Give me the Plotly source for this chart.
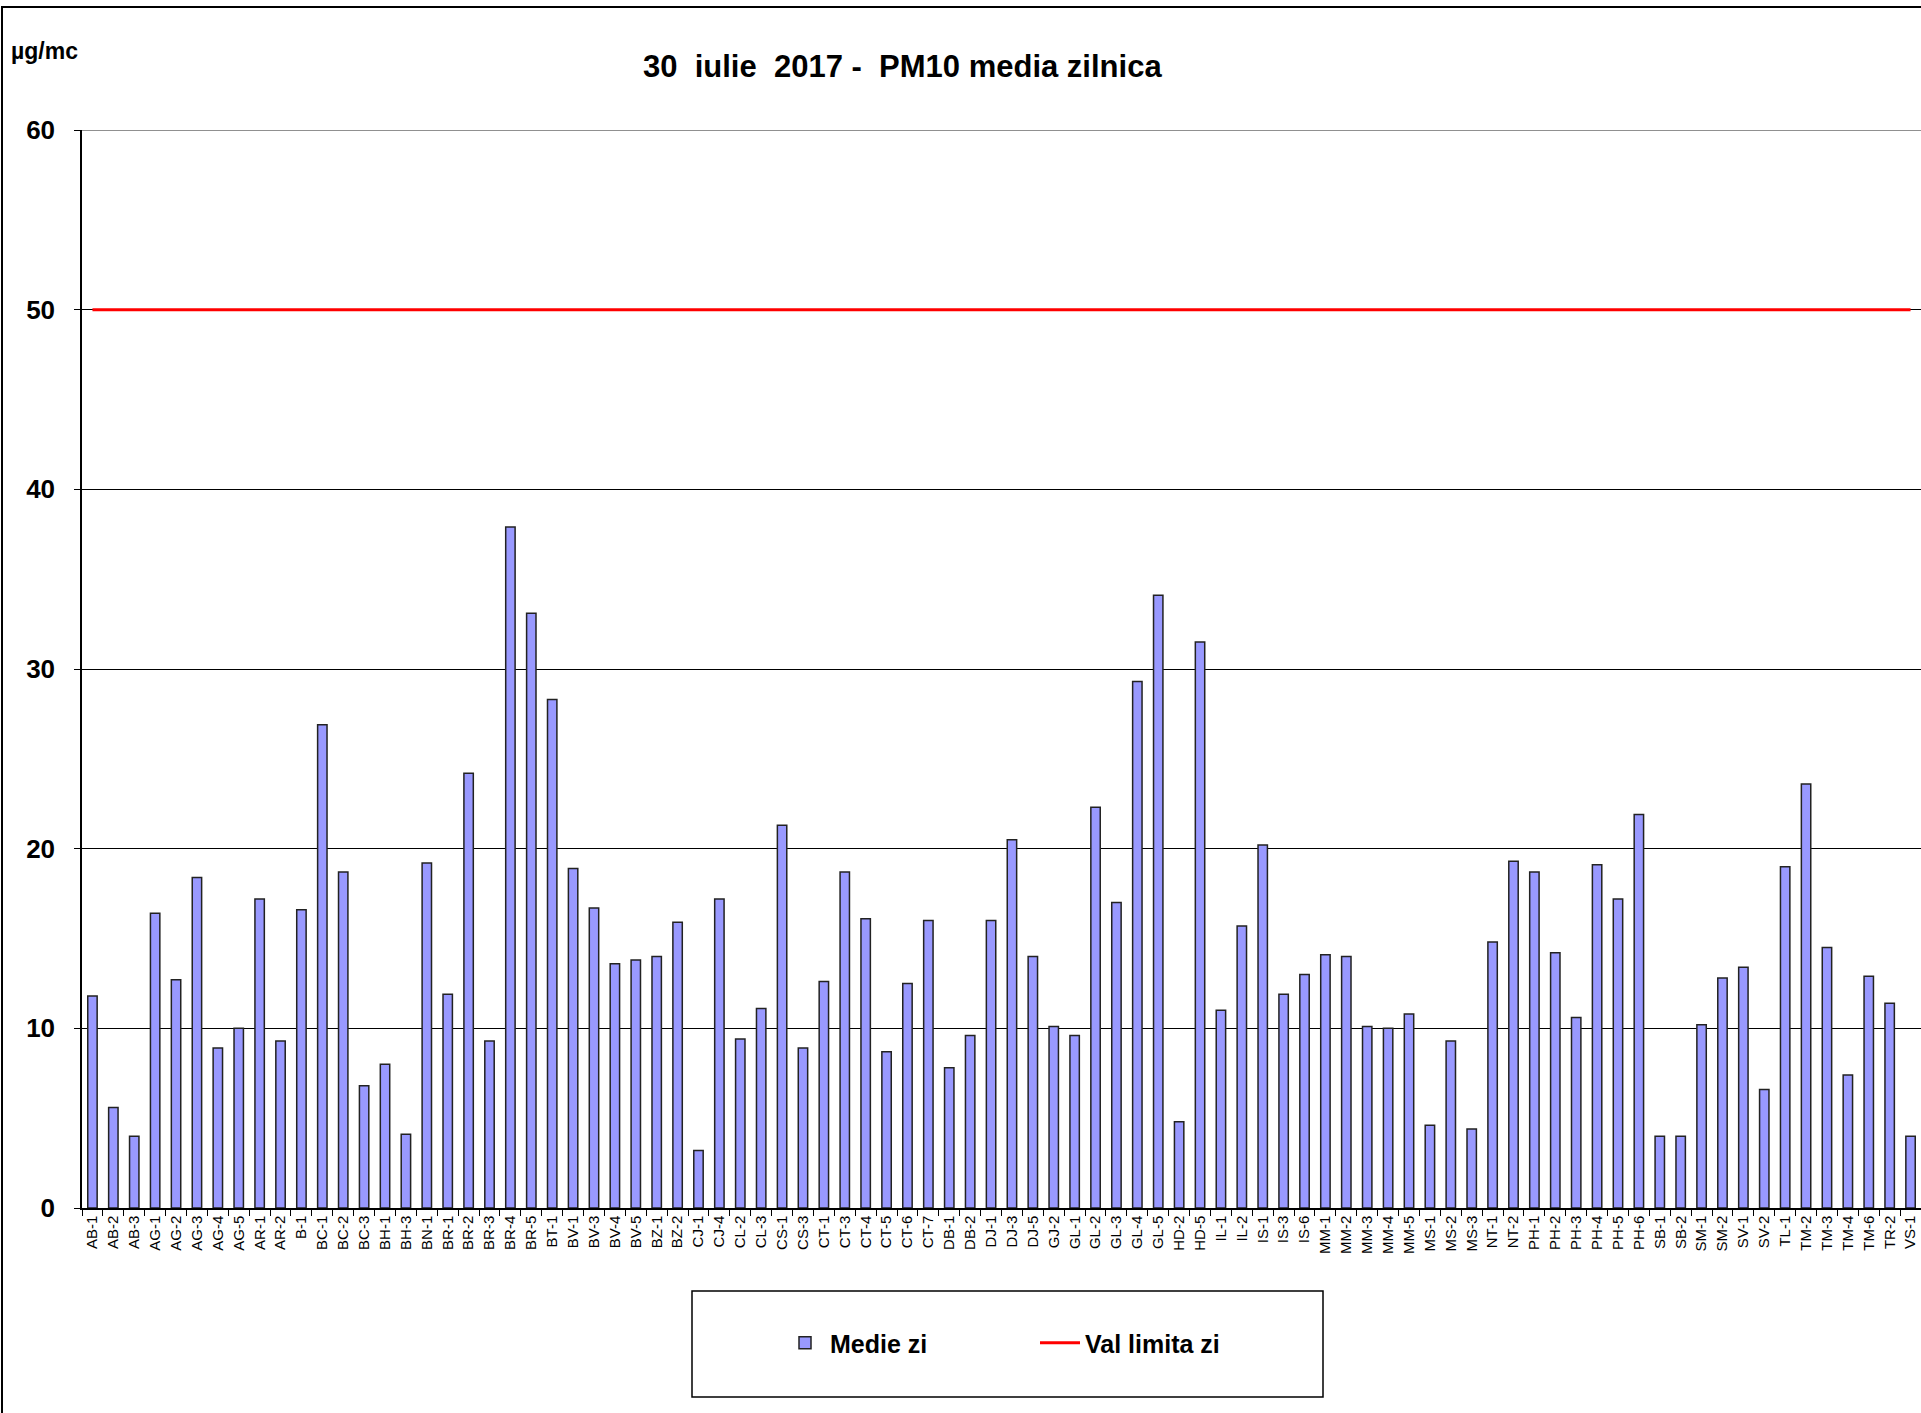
import plotly.graph_objects as go

stations = ["AB-1", "AB-2", "AB-3", "AG-1", "AG-2", "AG-3", "AG-4", "AG-5", "AR-1", "AR-2",
            "B-1", "BC-1", "BC-2", "BC-3", "BH-1", "BH-3", "BN-1", "BR-1", "BR-2", "BR-3",
            "BR-4", "BR-5", "BT-1", "BV-1", "BV-3", "BV-4", "BV-5", "BZ-1", "BZ-2", "CJ-1",
            "CJ-4", "CL-2", "CL-3", "CS-1", "CS-3", "CT-1", "CT-3", "CT-4", "CT-5", "CT-6",
            "CT-7", "DB-1", "DB-2", "DJ-1", "DJ-3", "DJ-5", "GJ-2", "GL-1", "GL-2", "GL-3",
            "GL-4", "GL-5", "HD-2", "HD-5", "IL-1", "IL-2", "IS-1", "IS-3", "IS-6", "MM-1",
            "MM-2", "MM-3", "MM-4", "MM-5", "MS-1", "MS-2", "MS-3", "NT-1", "NT-2", "PH-1",
            "PH-2", "PH-3", "PH-4", "PH-5", "PH-6", "SB-1", "SB-2", "SM-1", "SM-2", "SV-1",
            "SV-2", "TL-1", "TM-2", "TM-3", "TM-4", "TM-6", "TR-2", "VS-1"]

medie_zi = [11.8, 5.6, 4.0, 16.4, 12.7, 18.4, 8.9, 10.0, 17.2, 9.3,
            16.6, 26.9, 18.7, 6.8, 8.0, 4.1, 19.2, 11.9, 24.2, 9.3,
            37.9, 33.1, 28.3, 18.9, 16.7, 13.6, 13.8, 14.0, 15.9, 3.2,
            17.2, 9.4, 11.1, 21.3, 8.9, 12.6, 18.7, 16.1, 8.7, 12.5,
            16.0, 7.8, 9.6, 16.0, 20.5, 14.0, 10.1, 9.6, 22.3, 17.0,
            29.3, 34.1, 4.8, 31.5, 11.0, 15.7, 20.2, 11.9, 13.0, 14.1,
            14.0, 10.1, 10.0, 10.8, 4.6, 9.3, 4.4, 14.8, 19.3, 18.7,
            14.2, 10.6, 19.1, 17.2, 21.9, 4.0, 4.0, 10.2, 12.8, 13.4,
            6.6, 19.0, 23.6, 14.5, 7.4, 12.9, 11.4, 4.0]

limit_value = 50
val_limita_zi = [limit_value] * len(stations)

title_text = "30\u00a0 iulie\u00a0 2017 -\u00a0 PM10 media zilnica"
unit_text = "µg/mc"
y_ticks = [0, 10, 20, 30, 40, 50, 60]

# layout geometry (pixels)
W, H = 1921, 1413
L, R, T, B = 82, 0, 130, 205
PW, PH = W - L - R, H - T - B


def px(x):
    return (x - L) / PW


def py(y):
    return (H - B - y) / PH


FONT = "Liberation Sans, Arial, sans-serif"

fig = go.Figure()
fig.add_trace(go.Bar(
    x=stations, y=medie_zi, name="Medie zi",
    marker=dict(color="#9999FF", line=dict(color="#222222", width=1.5)),
))
fig.add_trace(go.Scatter(
    x=stations, y=val_limita_zi, name="Val limita zi", mode="lines",
    line=dict(color="#FF0000", width=3),
))

fig.update_layout(
    width=W, height=H,
    margin=dict(l=L, r=R, t=T, b=B, pad=0),
    paper_bgcolor="white", plot_bgcolor="white",
    bargap=0.55,
    showlegend=True,
    legend=dict(
        orientation="h", x=px(780), xanchor="left", y=py(1343), yanchor="middle",
        font=dict(family=FONT, size=25, color="black", weight="bold"),
        bgcolor="rgba(0,0,0,0)", borderwidth=0,
        entrywidth=200, entrywidthmode="pixels",
        itemwidth=40,
    ),
    xaxis=dict(
        type="category", range=[-0.5, len(stations) - 0.5],
        tickangle=-90, tickfont=dict(family=FONT, size=15, color="black"),
        showline=True, linecolor="black", linewidth=1.5,
        ticks="outside", ticklen=6, tickcolor="black", tickson="boundaries",
        showgrid=False, fixedrange=True,
    ),
    yaxis=dict(
        range=[0, 60], tickvals=y_ticks,
        tickfont=dict(family=FONT, size=26, color="black", weight="bold"),
        ticklabelstandoff=14,
        showline=True, linecolor="black", linewidth=1.5,
        ticks="outside", ticklen=6, tickcolor="black",
        showgrid=True, gridcolor="black", gridwidth=1,
        zeroline=False, fixedrange=True,
    ),
    annotations=[
        dict(text=title_text, x=px(902), y=py(67), xref="paper", yref="paper",
             showarrow=False, xanchor="center", yanchor="middle",
             font=dict(family=FONT, size=31, color="black", weight="bold")),
        dict(text=unit_text, x=px(9), y=py(51), xref="paper", yref="paper",
             showarrow=False, xanchor="left", yanchor="middle",
             font=dict(family=FONT, size=23, color="black", weight="bold")),
    ],
    shapes=[
        # top gridline in grey
        dict(type="line", xref="paper", yref="y", x0=0, x1=1, y0=60, y1=60,
             line=dict(color="#909090", width=2)),
        # legend box
        dict(type="rect", xref="paper", yref="paper",
             x0=px(692), x1=px(1323), y0=py(1397), y1=py(1291),
             line=dict(color="black", width=1.5), fillcolor="rgba(0,0,0,0)"),
        # outer chart border (left and top edges visible)
        dict(type="rect", xref="paper", yref="paper",
             x0=px(2), x1=px(1930), y0=py(1425), y1=py(7),
             line=dict(color="black", width=2), fillcolor="rgba(0,0,0,0)"),
    ],
)

fig.write_html("out.html", config={"displayModeBar": False},
               post_script="document.body.style.margin='0';document.body.style.overflow='hidden';")
